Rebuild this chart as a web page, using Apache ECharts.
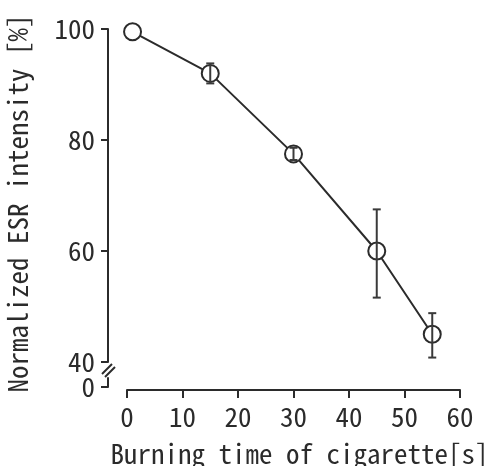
<!DOCTYPE html>
<html>
<head>
<meta charset="utf-8">
<script src="https://cdn.jsdelivr.net/npm/echarts@6/dist/echarts.min.js"></script>
<style>html,body{margin:0;padding:0;background:#fff;}#c{width:495px;height:466px;}</style>
</head>
<body>
<div id="c"></div>
<script>
const burnTime = [1, 15, 30, 45, 55];
const esrMean = [99.5, 92, 77.5, 60, 45];
const esrLow = [99.5, 90.2, 76.4, 51.6, 40.8];
const esrHigh = [99.5, 93.8, 78.6, 67.5, 48.8];
const xTicks = [0, 10, 20, 30, 40, 50, 60];
const yTicks = [40, 60, 80, 100];
const yLowTicks = [0];

const FONT = "'Noto Sans Mono CJK JP', 'DejaVu Sans Mono', monospace";
const INK = '#2b2b2b';

const chart = echarts.init(document.getElementById('c'), null, {renderer: 'canvas'});

const pts = burnTime.map((x, i) => [x, esrMean[i]]);
const errs = burnTime.map((x, i) => [x, esrLow[i], esrHigh[i]]);

const option = {
  backgroundColor: '#fff',
  animation: false,
  grid: [
    {left: 127, right: 35, top: 29, height: 333, containLabel: false, outerBoundsMode: 'none'},
    {left: 127, right: 35, top: 378, height: 9, containLabel: false, outerBoundsMode: 'none'}
  ],
  xAxis: [
    {
      gridIndex: 0, type: 'value', min: 0, max: 60, interval: 10,
      position: 'bottom', offset: 28,
      axisLine: {show: true, onZero: false, lineStyle: {color: INK, width: 2}},
      axisTick: {show: true, inside: false, length: 8, lineStyle: {color: INK, width: 2}},
      axisLabel: {show: true, margin: 13, color: INK, fontFamily: FONT, fontSize: 27,
        customValues: xTicks},
      splitLine: {show: false},
      name: 'Burning time of cigarette[s]', nameLocation: 'middle', nameGap: 50,
      nameTextStyle: {color: INK, fontFamily: FONT, fontSize: 27, padding: [0, 0, 0, 12]}
    },
    {
      gridIndex: 1, type: 'value', min: 0, max: 60, show: false
    }
  ],
  yAxis: [
    {
      gridIndex: 0, type: 'value', min: 40, max: 100, interval: 20,
      position: 'left', offset: 19,
      axisLine: {show: true, onZero: false, lineStyle: {color: INK, width: 2}},
      axisTick: {show: true, inside: false, length: 7, lineStyle: {color: INK, width: 2},
        customValues: yTicks},
      axisLabel: {show: true, margin: 13, color: INK, fontFamily: FONT, fontSize: 27,
        customValues: yTicks},
      splitLine: {show: false},
      name: 'Normalized ESR intensity [%]', nameLocation: 'middle', nameGap: 77,
      nameRotate: 90,
      nameTextStyle: {color: INK, fontFamily: FONT, fontSize: 27, padding: [0, 16, 0, 0]}
    },
    {
      gridIndex: 1, type: 'value', min: 0, max: 10,
      position: 'left', offset: 19,
      axisLine: {show: true, onZero: false, lineStyle: {color: INK, width: 2}},
      axisTick: {show: true, inside: false, length: 7, lineStyle: {color: INK, width: 2},
        customValues: yLowTicks},
      axisLabel: {show: true, margin: 13, color: INK, fontFamily: FONT, fontSize: 27,
        customValues: yLowTicks},
      splitLine: {show: false}
    }
  ],
  series: [
    {
      type: 'line', xAxisIndex: 0, yAxisIndex: 0, data: pts, z: 2,
      symbol: 'emptyCircle', symbolSize: 17, showAllSymbol: true,
      lineStyle: {color: INK, width: 2},
      itemStyle: {color: INK, borderColor: INK, borderWidth: 2}
    },
    {
      type: 'custom', xAxisIndex: 0, yAxisIndex: 0, data: errs, z: 3,
      renderItem: function (params, api) {
        const x = api.value(0);
        const lo = api.coord([x, api.value(1)]);
        const hi = api.coord([x, api.value(2)]);
        if (Math.abs(lo[1] - hi[1]) < 1) return null;
        const w = 4;
        const st = {stroke: '#3a3a3a', lineWidth: 2};
        return {
          type: 'group',
          children: [
            {type: 'line', shape: {x1: lo[0], y1: lo[1], x2: hi[0], y2: hi[1]}, style: st},
            {type: 'line', shape: {x1: lo[0] - w, y1: lo[1], x2: lo[0] + w, y2: lo[1]}, style: st},
            {type: 'line', shape: {x1: hi[0] - w, y1: hi[1], x2: hi[0] + w, y2: hi[1]}, style: st}
          ]
        };
      }
    }
  ]
};
chart.setOption(option);

// axis-break marks "//" between the two y-axis segments
const segTop = chart.convertToPixel({yAxisIndex: 0}, 40);
const segBot = chart.convertToPixel({yAxisIndex: 1}, 10);
const axX = chart.convertToPixel({xAxisIndex: 0}, 0) - 19;
const segMid = (segTop + segBot) / 2;
chart.setOption({
  graphic: [
    {type: 'line', shape: {x1: axX - 6, y1: segMid + 4, x2: axX + 4, y2: segMid - 6}, style: {stroke: INK, lineWidth: 2}},
    {type: 'line', shape: {x1: axX - 3, y1: segMid + 7, x2: axX + 7, y2: segMid - 3}, style: {stroke: INK, lineWidth: 2}}
  ]
});
</script>
</body>
</html>
